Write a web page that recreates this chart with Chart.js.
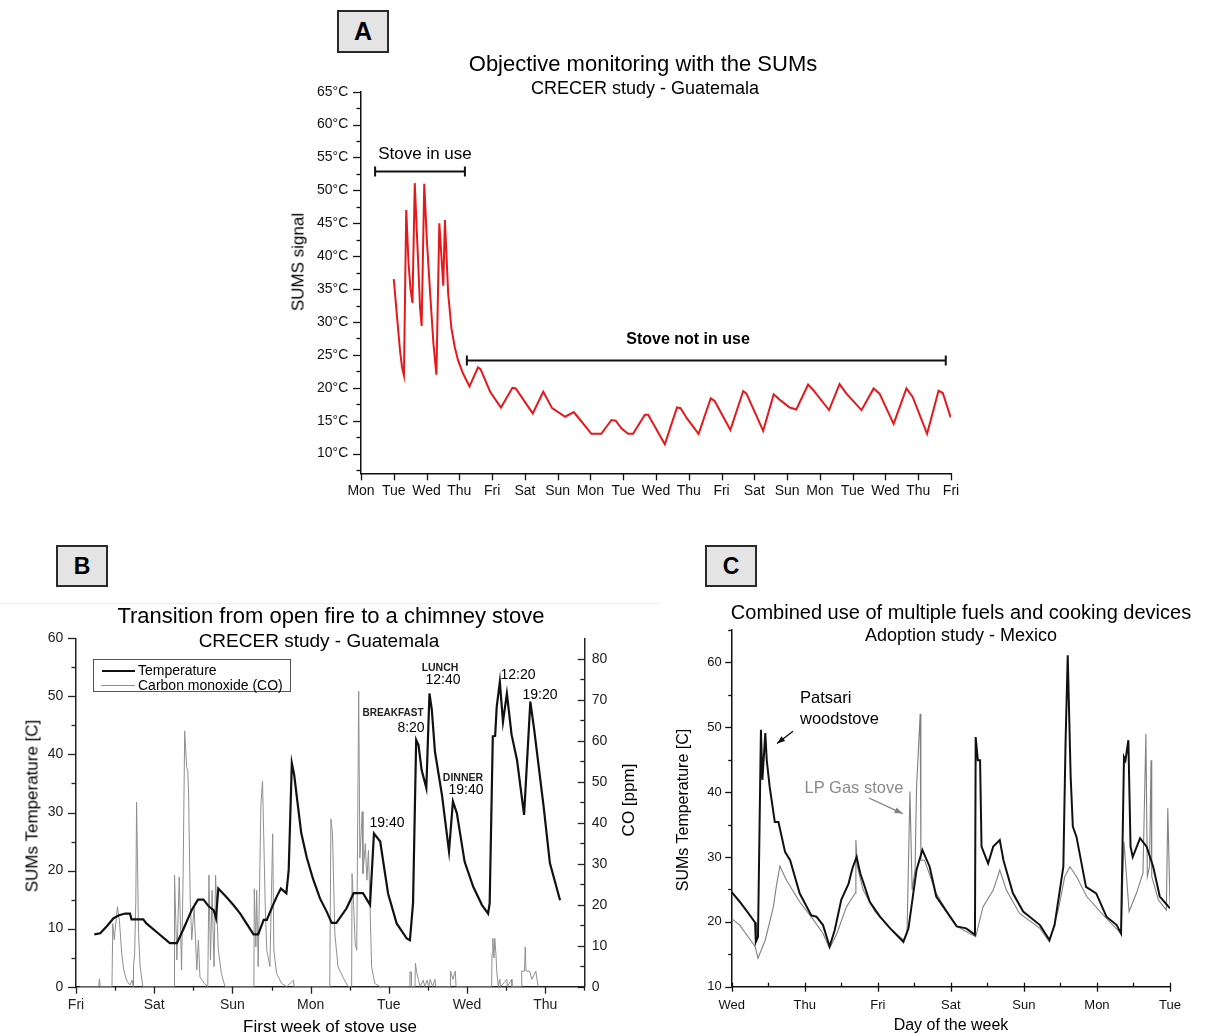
<!DOCTYPE html>
<html>
<head>
<meta charset="utf-8">
<script src="https://cdn.jsdelivr.net/npm/chart.js@4.4.0/dist/chart.umd.min.js"></script>
<style>
  html, body { margin: 0; padding: 0; background: #fff; }
  body { position: relative; width: 1205px; height: 1036px; overflow: hidden; font-family: 'Liberation Sans', Arial, sans-serif; }
  canvas { position: absolute; }
  .box { position: absolute; box-sizing: border-box; border: 2px solid #2a2a2a; background: #e4e4e4;
         font-weight: bold; display: flex; align-items: center; justify-content: center; }
</style>
</head>
<body>
<div class="box" style="left:337px;top:10px;width:52px;height:43px;font-size:25px;">A</div>
<div class="box" style="left:56px;top:545px;width:52px;height:42px;font-size:23px;">B</div>
<div class="box" style="left:705px;top:545px;width:52px;height:42px;font-size:23px;">C</div>
<div style="position:absolute;left:0;top:603px;width:660px;height:1px;background:#ececec;"></div>

<canvas id="chartA" width="730" height="440" style="left:250px;top:70px;"></canvas>
<canvas id="chartB" width="660" height="436" style="left:0px;top:600px;"></canvas>
<canvas id="chartC" width="545" height="436" style="left:660px;top:600px;"></canvas>

<div id="legendB" style="position:absolute;left:93px;top:659px;width:198px;height:33px;box-sizing:border-box;border:1px solid #555;background:#fff;">
  <div style="position:absolute;left:8px;top:10px;width:33px;border-top:2px solid #111;"></div>
  <div style="position:absolute;left:7px;top:25px;width:34px;border-top:1px solid #8f8f8f;"></div>
  <div style="position:absolute;left:44px;top:2px;font-size:14px;line-height:16px;">Temperature</div>
  <div style="position:absolute;left:44px;top:17px;font-size:14px;line-height:16px;">Carbon monoxide (CO)</div>
</div>

<script>
// ---- Panel A: SUMs signal, 18 days from Monday ----
const aDayLabels = ['Mon', 'Tue', 'Wed', 'Thu', 'Fri', 'Sat', 'Sun', 'Mon', 'Tue', 'Wed',
  'Thu', 'Fri', 'Sat', 'Sun', 'Mon', 'Tue', 'Wed', 'Thu', 'Fri'];
const aDays = [1.00, 1.09, 1.19, 1.25, 1.31, 1.38, 1.45, 1.51, 1.57, 1.64, 1.70, 1.75, 1.80, 1.85,
  1.93, 2.01, 2.11, 2.21, 2.30, 2.39, 2.51, 2.56, 2.66, 2.76, 2.86, 2.96, 3.11, 3.31, 3.57, 3.65,
  3.94, 4.27, 4.62, 4.72, 5.24, 5.56, 5.83, 6.23, 6.49, 6.69, 7.03, 7.33, 7.64, 7.77, 7.95, 8.15,
  8.30, 8.66, 8.76, 9.27, 9.64, 9.75, 9.95, 10.30, 10.67, 10.79, 11.27, 11.66, 11.76, 12.27, 12.59,
  12.77, 13.08, 13.28, 13.64, 13.79, 14.28, 14.60, 14.81, 15.27, 15.64, 15.82, 16.25, 16.64, 16.83,
  17.27, 17.62, 17.75, 17.99];
const aTemp = [36.5, 31.3, 25.7, 23.2, 21.9, 47.0, 39.0, 35.0, 32.9, 51.1, 44.0, 38.4, 32.3, 29.4,
  51.0, 42.4, 34.3, 26.7, 22.0, 45.0, 35.5, 45.5, 34.3, 29.0, 26.2, 24.2, 22.2, 20.2, 23.1, 22.8,
  19.4, 17.0, 20.0, 19.9, 16.1, 19.4, 16.9, 15.6, 16.3, 15.1, 13.0, 13.0, 15.1, 15.0, 13.8, 13.0,
  13.0, 15.9, 15.9, 11.4, 17.0, 16.9, 15.3, 13.0, 18.4, 18.0, 13.6, 19.5, 19.1, 13.45, 19.0,
  18.2, 17.0, 16.7, 20.5, 19.7, 16.6, 20.55, 19.1, 16.6, 19.9, 19.1, 14.5, 19.9, 18.6,
  13.0, 19.55, 19.2, 15.5];

// ---- Panel B: first week of stove use ----
const bDayLabels = ['Fri', 'Sat', 'Sun', 'Mon', 'Tue', 'Wed', 'Thu'];
const bTempDays = [0.234, 0.31, 0.40, 0.48, 0.55, 0.63, 0.69, 0.71, 0.86, 0.90, 1.05, 1.20, 1.29,
  1.37, 1.48, 1.56, 1.63, 1.70, 1.76, 1.79, 1.82, 1.92, 2.01, 2.10, 2.27, 2.33, 2.40, 2.44, 2.52,
  2.57, 2.62, 2.69, 2.72, 2.76, 2.79, 2.83, 2.88, 2.95, 3.03, 3.12, 3.21, 3.27, 3.33, 3.46, 3.55,
  3.67, 3.76, 3.81, 3.89, 3.99, 4.10, 4.23, 4.27, 4.31, 4.35, 4.38, 4.42, 4.48, 4.52, 4.55, 4.59,
  4.68, 4.77, 4.82, 4.87, 4.97, 5.08, 5.19, 5.27, 5.29, 5.33, 5.36, 5.38, 5.42, 5.46, 5.51, 5.57,
  5.64, 5.73, 5.81, 5.86, 5.98, 6.06, 6.19];
const bTemp = [9.0, 9.2, 10.5, 11.8, 12.3, 12.6, 12.6, 11.6, 11.6, 10.9, 9.2, 7.5, 7.5,
  9.8, 13.2, 15.0, 15.0, 13.8, 13.2, 11.8, 16.9, 15.5, 14.1, 12.6, 9.0, 9.0, 11.5, 11.5, 14.1,
  15.6, 16.9, 16.1, 20.1, 38.5, 36.5, 32.0, 26.5, 22.3, 18.6, 15.2, 12.8, 11.0, 11.0, 13.5, 16.1,
  16.1, 14.1, 26.4, 25.0, 16.1, 10.9, 8.3, 8.0, 14.4, 42.5, 41.6, 37.3, 34.2, 50.5, 47.7, 40.5,
  33.0, 23.3, 31.9, 29.9, 21.5, 17.2, 14.1, 12.6, 14.4, 43.1, 43.2, 48.2, 52.5, 45.6, 50.5, 43.4,
  39.0, 29.6, 49.1, 44.2, 31.0, 21.3, 14.9];
const bCoDays = [0.05, 0.29, 0.30, 0.31, 0.46, 0.47, 0.49, 0.50, 0.53, 0.555, 0.585, 0.61, 0.645,
  0.69, 0.72, 0.73, 0.735, 0.75, 0.765, 0.775, 0.80, 0.82, 0.855, 1.255, 1.26, 1.29, 1.32, 1.35,
  1.37, 1.39, 1.415, 1.43, 1.44, 1.46, 1.48, 1.51, 1.545, 1.565, 1.585, 1.64, 1.685, 1.70, 1.72,
  1.74, 1.765, 1.785, 1.82, 1.86, 1.905, 2.275, 2.28, 2.30, 2.31, 2.33, 2.365, 2.385, 2.40, 2.42,
  2.44, 2.48, 2.515, 2.53, 2.565, 2.63, 2.695, 2.78, 2.79, 2.86, 3.245, 3.26, 3.28, 3.31, 3.35,
  3.42, 3.48, 3.525, 3.53, 3.55, 3.57, 3.59, 3.615, 3.63, 3.66, 3.67, 3.70, 3.72, 3.74, 3.76, 3.78,
  3.82, 3.89, 4.265, 4.27, 4.285, 4.29, 4.335, 4.34, 4.36, 4.38, 4.40, 4.44, 4.46, 4.49, 4.51,
  4.53, 4.56, 4.59, 4.60, 4.785, 4.79, 4.82, 4.85, 4.86, 5.315, 5.32, 5.33, 5.345, 5.355, 5.37,
  5.38, 5.40, 5.42, 5.43, 5.51, 5.515, 5.57, 5.575, 5.695, 5.70, 5.735, 5.745, 5.755, 5.80, 5.83,
  5.88, 5.91, 5.92];
const bCo = [0, 0, 1.9, 0, 0, 15.4, 11.4, 13.8, 19.5, 16.2, 8.1, 4.1, 1.6,
  0.4, 1.6, 0, 4.9, 8.1, 21.1, 45.0, 13.0, 4.9, 0, 0, 27.2, 6.5, 26.8, 4.1,
  27.6, 62.4, 53.5, 52.7, 47.0, 21.1, 11.4, 19.5, 4.1, 11.4, 2.4, 0.8, 0, 27.2, 6.5,
  23.5, 4.9, 27.2, 8.9, 3.2, 0, 0, 23.9, 9.7, 23.5, 4.9, 44.6, 50.2, 37.3, 19.5,
  8.9, 4.9, 37.3, 8.9, 3.2, 0.8, 0, 1.6, 0, 0, 0, 40.9, 37.3, 13.0, 4.9,
  2.1, 0, 0, 27.6, 20.1, 10.4, 8.9, 72.1, 31.4, 42.7, 27.6, 34.9, 26.0, 33.3, 19.5, 4.9,
  0.8, 0, 0, 3.6, 3.6, 0, 0, 5.7, 3.2, 1.6, 0, 1.6, 0, 1.6, 0,
  1.8, 0, 1.8, 0, 0, 3.8, 1.8, 3.8, 0, 0, 8.0, 11.8, 7.0, 11.8, 8.0,
  4.0, 0, 1.8, 0, 1.8, 0, 1.8, 0, 0, 3.8, 3.8, 9.7, 3.8, 3.8, 1.8,
  3.8, 0, 0];

// ---- Panel C: Patsari woodstove and LP gas stove ----
const cDayLabels = ['Wed', 'Thu', 'Fri', 'Sat', 'Sun', 'Mon', 'Tue'];
const cWoodDays = [0, 0.11, 0.21, 0.32, 0.33, 0.36, 0.40, 0.42, 0.46, 0.48, 0.52, 0.59, 0.64, 0.73,
  0.80, 0.93, 1.09, 1.16, 1.25, 1.34, 1.41, 1.50, 1.60, 1.64, 1.66, 1.71, 1.76, 1.89, 2.03, 2.17,
  2.35, 2.42, 2.53, 2.61, 2.71, 2.80, 2.99, 3.08, 3.21, 3.33, 3.34, 3.37, 3.40, 3.42, 3.51, 3.58,
  3.67, 3.72, 3.85, 3.99, 4.22, 4.35, 4.42, 4.54, 4.57, 4.60, 4.64, 4.67, 4.72, 4.85, 4.99, 5.13,
  5.27, 5.33, 5.37, 5.39, 5.43, 5.46, 5.49, 5.59, 5.68, 5.77, 5.86, 6.00];
const cWood = [24.6, 23.1, 21.6, 19.9, 16.9, 17.7, 49.6, 41.9, 49.1, 44.9, 40.8, 35.4, 35.4, 30.8,
  29.5, 24.4, 21.0, 20.8, 19.5, 16.2, 18.7, 23.4, 25.9, 27.7, 28.5, 30.0, 27.5, 23.1, 20.8, 19.0,
  16.9, 19.0, 28.0, 31.1, 28.5, 23.9, 20.8, 19.3, 19.0, 18.0, 48.5, 44.9, 44.9, 31.6, 29.0, 31.6,
  32.6, 29.5, 24.4, 21.6, 19.5, 17.2, 19.5, 28.5, 47.5, 61.1, 42.4, 34.7, 33.1, 25.4, 24.4, 20.8,
  19.5, 18.2, 45.4, 44.9, 48.0, 31.6, 30.0, 32.9, 31.6, 28.5, 23.9, 22.1];
const cGasDays = [0, 0.11, 0.32, 0.36, 0.46, 0.57, 0.61, 0.66, 0.75, 0.93, 1.12, 1.25, 1.34, 1.44,
  1.57, 1.69, 1.70, 1.72, 1.80, 1.96, 2.17, 2.35, 2.40, 2.44, 2.47, 2.51, 2.53, 2.58, 2.59, 2.64,
  2.80, 2.99, 3.08, 3.34, 3.44, 3.58, 3.67, 3.76, 3.94, 4.22, 4.35, 4.47, 4.56, 4.63, 4.72, 4.86,
  5.08, 5.33, 5.37, 5.44, 5.54, 5.63, 5.67, 5.69, 5.72, 5.74, 5.75, 5.84, 5.95, 5.97, 6.00];
const cGas = [20.5, 19.5, 16.2, 14.4, 17.2, 22.3, 25.4, 28.6, 26.4, 23.1, 20.3, 18.2, 15.9, 18.2,
  22.3, 24.4, 32.6, 28.5, 24.9, 21.6, 19.0, 17.2, 18.2, 40.1, 24.9, 28.0, 40.6, 52.1, 29.5, 29.5,
  24.4, 20.8, 19.3, 17.7, 22.3, 24.9, 28.0, 24.9, 21.3, 19.0, 16.9, 21.8, 27.0, 28.5, 27.0, 23.9,
  21.1, 18.2, 32.4, 21.6, 24.4, 27.5, 49.0, 27.0, 28.5, 44.9, 27.0, 23.4, 21.8, 37.5, 22.6];

const FONT = "'Liberation Sans', Arial, sans-serif";
Chart.defaults.font.family = FONT;
Chart.defaults.color = '#111';

const pts = (xs, ys) => xs.map((x, i) => ({ x, y: ys[i] }));
const range = (from, to, step) => {
  const out = [];
  for (let v = from; v <= to + 1e-9; v += step) out.push(+v.toFixed(4));
  return out;
};

// draws major / minor tick marks; a and b are offsets from the axis line
const tickMarks = {
  id: 'tickMarks',
  afterDraw(chart, args, opts) {
    const { ctx, chartArea } = chart;
    ctx.save();
    ctx.strokeStyle = opts.color || '#111';
    ctx.lineWidth = opts.width || 1.3;
    (opts.marks || []).forEach(m => {
      const s = chart.scales[m.scale];
      range(m.from, m.to, m.step).forEach(v => {
        const p = Math.round(s.getPixelForValue(v)) + 0.5;
        ctx.beginPath();
        if (s.isHorizontal()) {
          const y = chartArea.bottom;
          ctx.moveTo(p, y + m.a);
          ctx.lineTo(p, y + m.b);
        } else {
          const x = s.position === 'right' ? chartArea.right : chartArea.left;
          ctx.moveTo(x + m.a, p);
          ctx.lineTo(x + m.b, p);
        }
        ctx.stroke();
      });
    });
    ctx.restore();
  }
};

// range bars and arrows placed in data units
const notes = {
  id: 'notes',
  afterDatasetsDraw(chart, args, opts) {
    const { ctx, scales: { x, y } } = chart;
    ctx.save();
    (opts.bars || []).forEach(b => {
      const x0 = x.getPixelForValue(b.from), x1 = x.getPixelForValue(b.to);
      const yy = Math.round(y.getPixelForValue(b.level)) + 0.5;
      ctx.strokeStyle = '#111';
      ctx.lineWidth = 2;
      ctx.beginPath();
      ctx.moveTo(x0, yy); ctx.lineTo(x1, yy);
      ctx.moveTo(x0, yy - 5); ctx.lineTo(x0, yy + 5);
      ctx.moveTo(x1, yy - 5); ctx.lineTo(x1, yy + 5);
      ctx.stroke();
    });
    (opts.arrows || []).forEach(a => {
      const x0 = x.getPixelForValue(a.from[0]), y0 = y.getPixelForValue(a.from[1]);
      const x1 = x.getPixelForValue(a.to[0]), y1 = y.getPixelForValue(a.to[1]);
      const ang = Math.atan2(y1 - y0, x1 - x0);
      ctx.strokeStyle = a.color; ctx.fillStyle = a.color; ctx.lineWidth = 1.3;
      ctx.beginPath(); ctx.moveTo(x0, y0); ctx.lineTo(x1, y1); ctx.stroke();
      ctx.beginPath();
      ctx.moveTo(x1, y1);
      ctx.lineTo(x1 - 8 * Math.cos(ang) + 3 * Math.sin(ang), y1 - 8 * Math.sin(ang) - 3 * Math.cos(ang));
      ctx.lineTo(x1 - 8 * Math.cos(ang) - 3 * Math.sin(ang), y1 - 8 * Math.sin(ang) + 3 * Math.cos(ang));
      ctx.closePath(); ctx.fill();
    });
    ctx.restore();
  }
};

const noGrid = { display: true, drawOnChartArea: false, drawTicks: false, color: 'rgba(0,0,0,0)' };
const axisLine = { display: true, color: '#111', width: 1.5 };
const baseOpts = {
  responsive: false,
  animation: false,
  devicePixelRatio: 1,
  elements: { point: { radius: 0 }, line: { tension: 0 } },
};

// ---------- A ----------
new Chart(document.getElementById('chartA'), {
  type: 'line',
  data: {
    datasets: [{
      label: 'SUMS signal', data: pts(aDays, aTemp),
      borderColor: '#e3191c', borderWidth: 2
    }]
  },
  options: {
    ...baseOpts,
    layout: { padding: { left: 31, right: 29, top: 21.7, bottom: 6.7 } },
    plugins: {
      legend: { display: false }, tooltip: { enabled: false },
      tickMarks: {
        marks: [
          { scale: 'y', from: 10, to: 65, step: 5, a: -8, b: 0 },
          { scale: 'y', from: 7.5, to: 62.5, step: 5, a: -4.5, b: 0 },
          { scale: 'x', from: 0, to: 18, step: 1, a: 0, b: 7 }
        ]
      },
      notes: {
        bars: [{ from: 0.43, to: 3.17, level: 52.9 }, { from: 3.23, to: 17.84, level: 24.2 }]
      }
    },
    scales: {
      x: {
        type: 'linear', min: 0, max: 18,
        grid: noGrid, border: axisLine,
        ticks: { stepSize: 1, autoSkip: false, maxRotation: 0, padding: 9.3, font: { size: 14 },
          callback: v => aDayLabels[v] ?? '' },
        afterFit: s => { s.height = 30; }
      },
      y: {
        min: 7, max: 65,
        grid: noGrid, border: axisLine,
        ticks: { stepSize: 5, padding: 12.7, font: { size: 14 }, callback: v => v + '°C' },
        afterBuildTicks: s => { s.ticks = s.ticks.filter(t => t.value >= 10 && t.value % 5 === 0); },
        afterFit: s => { s.width = 80; }
      }
    }
  },
  plugins: [tickMarks, notes]
});

// ---------- B ----------
new Chart(document.getElementById('chartB'), {
  type: 'line',
  data: {
    datasets: [
      { label: 'Temperature', data: pts(bTempDays, bTemp), borderColor: '#111', borderWidth: 2.2, yAxisID: 'y' },
      { label: 'Carbon monoxide (CO)', data: pts(bCoDays, bCo), borderColor: '#8f8f8f', borderWidth: 1, yAxisID: 'y1' }
    ]
  },
  options: {
    ...baseOpts,
    layout: { padding: { left: 26, right: 35.7, top: 38.3, bottom: 19.3 } },
    plugins: {
      legend: { display: false }, tooltip: { enabled: false },
      tickMarks: {
        color: '#222',
        marks: [
          { scale: 'y', from: 0, to: 60, step: 10, a: -8, b: 0 },
          { scale: 'y', from: 5, to: 55, step: 10, a: -4.5, b: 0 },
          { scale: 'y1', from: 0, to: 80, step: 10, a: -6.5, b: 0 },
          { scale: 'y1', from: 5, to: 75, step: 10, a: -4, b: 0 },
          { scale: 'x', from: 0, to: 6, step: 1, a: 0, b: 7 },
          { scale: 'x', from: 0.5, to: 6.5, step: 1, a: 0, b: 4 }
        ]
      }
    },
    scales: {
      x: {
        type: 'linear', min: 0, max: 6.5,
        grid: noGrid, border: { ...axisLine, color: '#222' },
        ticks: { stepSize: 1, autoSkip: false, maxRotation: 0, padding: 9.9, font: { size: 14 }, color: '#222',
          callback: v => bDayLabels[v] ?? '' },
        afterBuildTicks: s => { s.ticks = s.ticks.filter(t => Number.isInteger(t.value)); },
        afterFit: s => { s.height = 30; }
      },
      y: {
        min: 0, max: 60,
        grid: noGrid, border: { ...axisLine, color: '#222' },
        ticks: { stepSize: 10, padding: 12.7, font: { size: 14 }, color: '#222' },
        afterFit: s => { s.width = 50; }
      },
      y1: {
        position: 'right', min: 0, max: 85,
        grid: noGrid, border: { ...axisLine, color: '#222' },
        ticks: { stepSize: 10, padding: 7.4, font: { size: 14 }, color: '#222' },
        afterBuildTicks: s => { s.ticks = s.ticks.filter(t => t.value <= 80); },
        afterFit: s => { s.width = 40; }
      }
    }
  },
  plugins: [tickMarks]
});

// ---------- C ----------
new Chart(document.getElementById('chartC'), {
  type: 'line',
  data: {
    datasets: [
      { label: 'Patsari woodstove', data: pts(cWoodDays, cWood), borderColor: '#111', borderWidth: 2 },
      { label: 'LP Gas stove', data: pts(cGasDays, cGas), borderColor: '#808080', borderWidth: 1.1 }
    ]
  },
  options: {
    ...baseOpts,
    layout: { padding: { left: 26.7, right: 35, top: 30, bottom: 19.3 } },
    plugins: {
      legend: { display: false }, tooltip: { enabled: false },
      tickMarks: {
        marks: [
          { scale: 'y', from: 10, to: 60, step: 10, a: -6.5, b: 0 },
          { scale: 'y', from: 15, to: 65, step: 10, a: -3.5, b: 0 },
          { scale: 'x', from: 0, to: 6, step: 1, a: -4, b: 5 },
          { scale: 'x', from: 0.5, to: 5.5, step: 1, a: -4, b: 0 }
        ]
      },
      notes: {
        arrows: [
          { from: [0.84, 49.4], to: [0.62, 47.5], color: '#111' },
          { from: [1.88, 39.1], to: [2.34, 36.7], color: '#808080' }
        ]
      }
    },
    scales: {
      x: {
        type: 'linear', min: 0, max: 6,
        grid: noGrid, border: axisLine,
        ticks: { stepSize: 1, autoSkip: false, maxRotation: 0, padding: 10.5, font: { size: 13 },
          callback: v => cDayLabels[v] ?? '' },
        afterFit: s => { s.height = 30; }
      },
      y: {
        min: 10, max: 65,
        grid: noGrid, border: axisLine,
        ticks: { stepSize: 10, padding: 10, font: { size: 13 } },
        afterBuildTicks: s => { s.ticks = s.ticks.filter(t => t.value <= 60); },
        afterFit: s => { s.width = 45; }
      }
    }
  },
  plugins: [tickMarks, notes]
});

// ---------- text ----------
function addText(txt, x, y, o = {}) {
  const d = document.createElement('div');
  d.textContent = txt;
  const tx = o.align === 'left' ? '0' : o.align === 'right' ? '-100%' : '-50%';
  d.style.cssText = 'position:absolute;white-space:nowrap;line-height:1;' +
    `left:${x}px;top:${y}px;font-size:${o.size || 16}px;font-weight:${o.bold ? 'bold' : 'normal'};` +
    `color:${o.color || '#000'};transform:translate(${tx},-50%)${o.rotate ? ' rotate(-90deg)' : ''};`;
  document.body.appendChild(d);
}

addText('Objective monitoring with the SUMs', 643, 64, { size: 22 });
addText('CRECER study - Guatemala', 645, 88, { size: 18 });
addText('SUMS signal', 298, 262, { size: 17, rotate: true });
addText('Stove in use', 425, 153, { size: 17 });
addText('Stove not in use', 688, 339, { size: 16, bold: true });

addText('Transition from open fire to a chimney stove', 331, 616, { size: 22 });
addText('CRECER study - Guatemala', 319, 640, { size: 19 });
addText('SUMs Temperature [C]', 32, 806, { size: 17, rotate: true });
addText('CO [ppm]', 628, 800, { size: 17, rotate: true });
addText('First week of stove use', 330, 1026, { size: 17 });
addText('LUNCH', 440, 667, { size: 10.5, bold: true, color: '#222' });
addText('12:40', 443, 679, { size: 14 });
addText('BREAKFAST', 393, 713, { size: 10, bold: true, color: '#222' });
addText('8:20', 411, 727, { size: 14 });
addText('DINNER', 463, 777, { size: 10.5, bold: true, color: '#222' });
addText('19:40', 466, 789, { size: 14 });
addText('19:40', 387, 822, { size: 14 });
addText('12:20', 518, 674, { size: 14 });
addText('19:20', 540, 694, { size: 14 });

addText('Combined use of multiple fuels and cooking devices', 961, 612, { size: 20 });
addText('Adoption study - Mexico', 961, 635, { size: 18 });
addText('SUMs Temperature [C]', 683, 810, { size: 16, rotate: true });
addText('Day of the week', 951, 1025, { size: 16 });
addText('Patsari', 800, 697, { size: 16.5, align: 'left' });
addText('woodstove', 800, 718, { size: 16.5, align: 'left' });
addText('LP Gas stove', 854, 787, { size: 16.5, color: '#8a8a8a' });
</script>
</body>
</html>
